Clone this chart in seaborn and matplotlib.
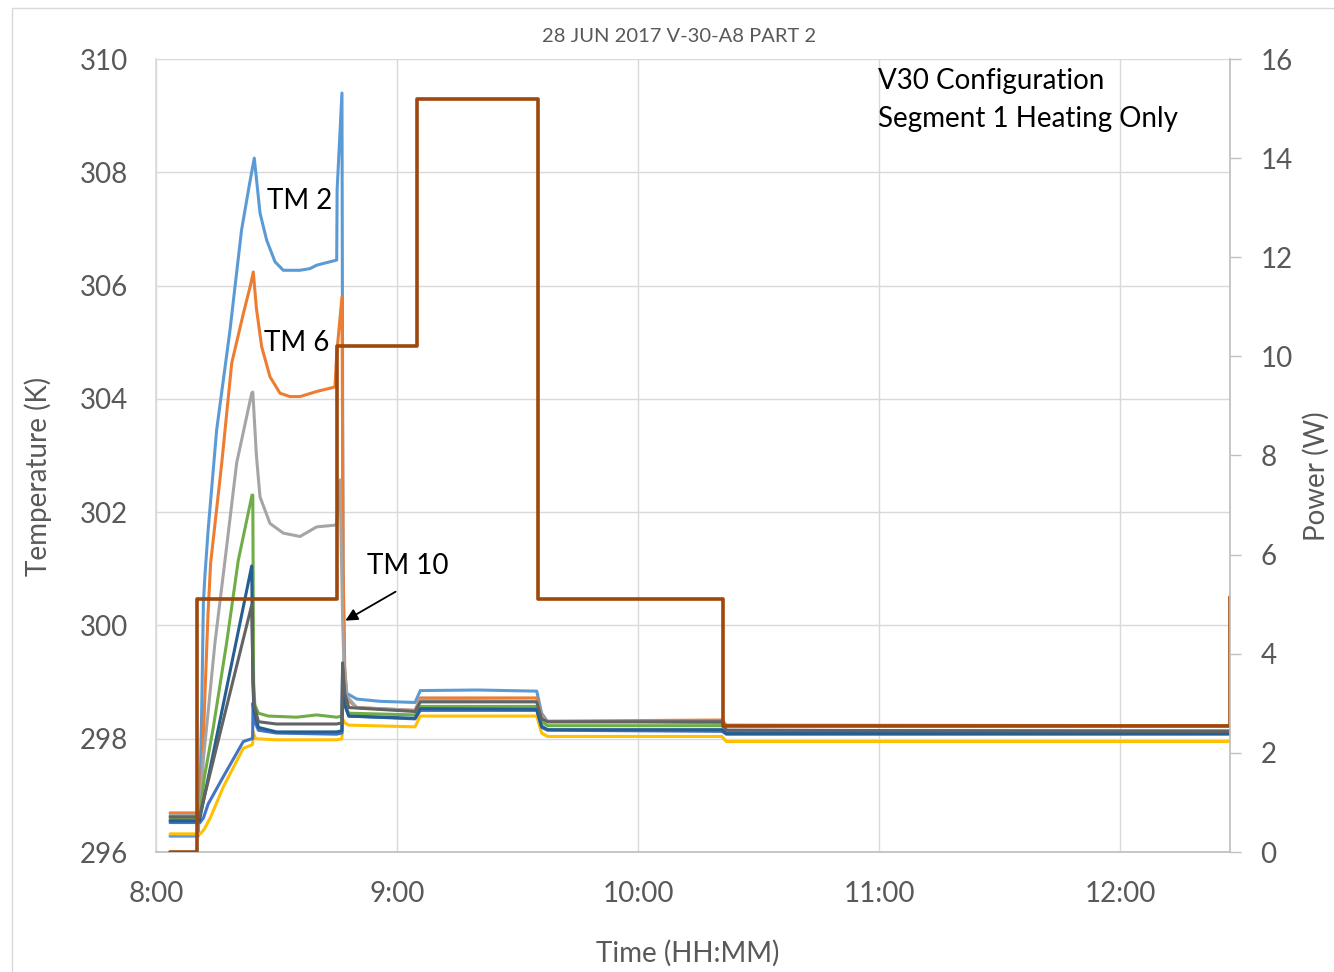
import matplotlib
matplotlib.use("Agg")
import matplotlib.pyplot as plt
from matplotlib.patches import Rectangle
from matplotlib.ticker import FuncFormatter
import pandas as pd
import seaborn as sns

# Time is in minutes after 08:00, temperatures in kelvin
tm2_t = [3.5, 10.5, 10.95, 11.4, 11.8, 12.2, 13.0, 15.1, 18.4, 21.3, 23.3, 24.47, 25.9, 27.56,
         29.63, 31.69, 35.85, 38.34, 40.01, 43.32, 44.99, 45.1, 46.3, 46.56, 46.9, 47.5, 50.0,
         55.8, 64.5, 65.8, 80.0, 94.8, 96.0, 97.5, 120.0, 140.9, 142.0, 267.4]
tm2_k = [296.28, 296.28, 297.0, 298.6, 300.4, 300.9, 301.7, 303.45, 305.2, 306.98, 307.8, 308.25,
         307.28, 306.8, 306.42, 306.27, 306.27, 306.3, 306.36, 306.42, 306.45, 307.7, 309.4,
         301.0, 299.3, 298.8, 298.7, 298.66, 298.64, 298.85, 298.86, 298.84, 298.45, 298.3,
         298.3, 298.28, 298.12, 298.1]

tm6_t = [3.5, 10.6, 11.0, 11.4, 12.2, 12.95, 13.6, 16.36, 18.85, 21.73, 23.5, 24.22, 25.0, 26.31,
         28.38, 30.87, 33.36, 35.85, 40.01, 44.56, 45.0, 46.3, 46.6, 47.0, 47.5, 50.0, 64.5,
         65.8, 94.8, 96.0, 97.5, 140.9, 142.0, 267.4]
tm6_k = [296.69, 296.69, 296.8, 297.3, 298.8, 300.2, 301.1, 302.86, 304.63, 305.5, 306.0, 306.24,
         305.6, 304.92, 304.39, 304.1, 304.04, 304.04, 304.13, 304.21, 304.8, 305.8, 301.0,
         299.2, 298.7, 298.55, 298.5, 298.72, 298.72, 298.4, 298.31, 298.33, 298.24, 298.23]

tm10_t = [3.5, 10.7, 11.2, 11.78, 14.69, 17.18, 20.09, 23.83, 24.1, 25.0, 25.89, 28.38, 31.69,
          35.85, 40.01, 44.56, 45.0, 45.8, 46.5, 46.8, 47.5, 50.0, 64.5, 65.8, 94.8, 96.0, 97.5,
          140.9, 142.0, 267.4]
tm10_k = [296.65, 296.65, 296.9, 297.62, 299.7, 301.15, 302.87, 304.1, 304.12, 303.0, 302.27,
          301.8, 301.63, 301.57, 301.74, 301.77, 301.8, 302.57, 300.0, 299.3, 298.75, 298.55,
          298.5, 298.68, 298.66, 298.4, 298.3, 298.3, 298.15, 298.13]

tm4_t = [3.5, 11.0, 12.0, 13.5, 16.76, 21.73, 23.83, 24.07, 24.15, 24.8, 30.0, 44.99, 46.3, 46.45,
         47.0, 48.0, 64.5, 65.8, 94.8, 96.0, 97.5, 140.9, 142.0, 267.4]
tm4_k = [296.32, 296.32, 296.4, 296.6, 297.15, 297.83, 297.89, 297.9, 298.12, 298.0, 297.98,
         297.98, 298.0, 298.35, 298.28, 298.24, 298.21, 298.4, 298.4, 298.1, 298.04, 298.04,
         297.95, 297.95]

tm5_t = [3.5, 10.95, 11.8, 13.0, 16.76, 21.73, 23.83, 24.07, 24.15, 24.6, 25.5, 30.0, 44.99, 46.3,
         46.45, 47.0, 48.0, 64.5, 65.8, 94.8, 96.0, 97.5, 140.9, 142.0, 267.4]
tm5_k = [296.52, 296.52, 296.6, 296.85, 297.33, 297.95, 298.0, 298.0, 298.63, 298.3, 298.15,
         298.1, 298.08, 298.1, 299.25, 298.6, 298.4, 298.35, 298.5, 298.5, 298.2, 298.15,
         298.13, 298.08, 298.08]

tm7_t = [3.5, 10.6, 11.0, 12.0, 14.27, 17.6, 20.49, 23.9, 24.1, 24.3, 24.6, 25.5, 28.0, 35.0,
         40.0, 44.99, 46.3, 46.5, 47.0, 48.0, 64.5, 65.8, 94.8, 96.0, 97.5, 140.9, 142.0, 267.4]
tm7_k = [296.58, 296.58, 296.7, 297.3, 298.2, 299.7, 301.15, 302.3, 302.3, 299.0, 298.6, 298.45,
         298.4, 298.38, 298.42, 298.38, 298.4, 299.0, 298.6, 298.45, 298.42, 298.57, 298.57,
         298.3, 298.23, 298.23, 298.14, 298.14]

tm8_t = [3.5, 10.8, 23.83, 24.1, 24.4, 25.5, 30.0, 44.99, 46.3, 46.45, 47.0, 48.0, 64.5, 65.8,
         94.8, 96.0, 97.5, 140.9, 142.0, 267.4]
tm8_k = [296.55, 296.55, 301.05, 299.0, 298.5, 298.2, 298.12, 298.12, 298.14, 299.2, 298.6,
         298.4, 298.36, 298.53, 298.52, 298.22, 298.16, 298.16, 298.09, 298.09]

tm9_t = [3.5, 10.8, 23.83, 24.1, 24.4, 25.5, 30.0, 44.99, 46.3, 46.45, 47.0, 48.0, 64.5, 65.8,
         94.8, 96.0, 97.5, 140.9, 142.0, 267.4]
tm9_k = [296.62, 296.62, 300.36, 299.3, 298.6, 298.3, 298.26, 298.26, 298.28, 299.34, 298.8,
         298.55, 298.48, 298.65, 298.65, 298.35, 298.3, 298.3, 298.15, 298.13]

# Heater power (W), step changes
power_t = [3.5, 10.2, 45.0, 65.0, 95.1, 141.2, 267.3]
power_w = [0.0, 5.1, 10.2, 15.2, 5.1, 2.55, 5.15]

sensors = ["TM 2", "TM 6", "TM 10", "TM 4", "TM 5", "TM 7", "TM 8", "TM 9"]
times = [tm2_t, tm6_t, tm10_t, tm4_t, tm5_t, tm7_t, tm8_t, tm9_t]
temps = [tm2_k, tm6_k, tm10_k, tm4_k, tm5_k, tm7_k, tm8_k, tm9_k]
colors = {"TM 2": "#5B9BD5", "TM 6": "#ED7D31", "TM 10": "#A5A5A5", "TM 4": "#FFC000",
          "TM 5": "#4472C4", "TM 7": "#70AD47", "TM 8": "#255E91", "TM 9": "#636363"}

df = pd.concat(
    [pd.DataFrame({"minutes": t, "kelvin": k, "sensor": s}) for s, t, k in zip(sensors, times, temps)],
    ignore_index=True,
)

sns.set_theme(style="white")
plt.rcParams["font.family"] = ["Lato", "DejaVu Sans"]

W, H = 1334, 972
fig = plt.figure(figsize=(W / 100, H / 100), dpi=100)
ax = fig.add_axes([156 / W, 1 - 852 / H, (1230 - 156) / W, (852 - 59) / H])

txt = "#595959"
grid = "#D9D9D9"
fs = 20

sns.lineplot(data=df, x="minutes", y="kelvin", hue="sensor", hue_order=sensors, palette=colors,
             estimator=None, sort=False, legend=False, linewidth=2.2, ax=ax)

ax.set_xlim(0, 267.4)
ax.set_ylim(296, 310)
ax.set_xticks([0, 60, 120, 180, 240])
ax.xaxis.set_major_formatter(FuncFormatter(lambda m, _: f"{8 + int(m // 60)}:{int(m % 60):02d}"))
ax.set_yticks(range(296, 311, 2))
ax.grid(True, color=grid, linewidth=1)
ax.tick_params(axis="both", length=0, labelsize=fs, labelcolor=txt)
ax.tick_params(axis="y", pad=20)
ax.tick_params(axis="x", pad=21)
for side in ("top", "right"):
    ax.spines[side].set_visible(False)
ax.spines["left"].set_color(grid)
ax.spines["bottom"].set_color("#BFBFBF")

ax.set_xlabel("Time (HH:MM)", fontsize=fs, color=txt)
ax.set_ylabel("Temperature (K)", fontsize=fs, color=txt)
ax.xaxis.set_label_coords(0.4953, -0.1274)
ax.xaxis.label.set_verticalalignment("center")
ax.yaxis.set_label_coords(-0.1099, 0.474)
ax.yaxis.label.set_verticalalignment("center")

ax.text(179.8, 309.61, "V30 Configuration", fontsize=fs, va="center", color="black")
ax.text(179.8, 308.94, "Segment 1 Heating Only", fontsize=fs, va="center", color="black")
ax.text(27.6, 307.49, "TM 2", fontsize=fs, va="center", color="black")
ax.text(26.9, 304.99, "TM 6", fontsize=fs, va="center", color="black")
ax.text(52.5, 301.05, "TM 10", fontsize=fs, va="center", color="black")
ax.annotate("", xy=(46.55, 300.06), xytext=(60.25, 300.62),
            arrowprops=dict(arrowstyle="-|>", color="black", lw=1.3, mutation_scale=18))

ax2 = ax.twinx()
sns.lineplot(x=power_t, y=power_w, ax=ax2, color="#9E480E", linewidth=2.6,
             drawstyle="steps-post", estimator=None, legend=False)
ax2.set_xlim(0, 267.4)
ax2.set_ylim(0, 16)
ax2.set_yticks(range(0, 17, 2))
ax2.grid(False)
ax2.tick_params(axis="y", length=8, width=1, color="#BFBFBF", labelsize=fs, labelcolor=txt, pad=14)
for side in ("top", "left", "bottom"):
    ax2.spines[side].set_visible(False)
ax2.spines["right"].set_color("#BFBFBF")
ax2.set_ylabel("Power (W)", fontsize=fs, color=txt)
ax2.yaxis.set_label_coords(1.0805, 0.474)
ax2.yaxis.label.set_verticalalignment("center")

fig.text(679 / W, 1 - 37 / H, "28 JUN 2017 V-30-A8 PART 2", ha="center", va="center",
         fontsize=14.5, color=txt)
fig.add_artist(Rectangle((12 / W, -0.5), 2, 1 - 8 / H + 0.5, transform=fig.transFigure,
                         fill=False, edgecolor=grid, linewidth=1))

fig.savefig("out.png", dpi=100)
